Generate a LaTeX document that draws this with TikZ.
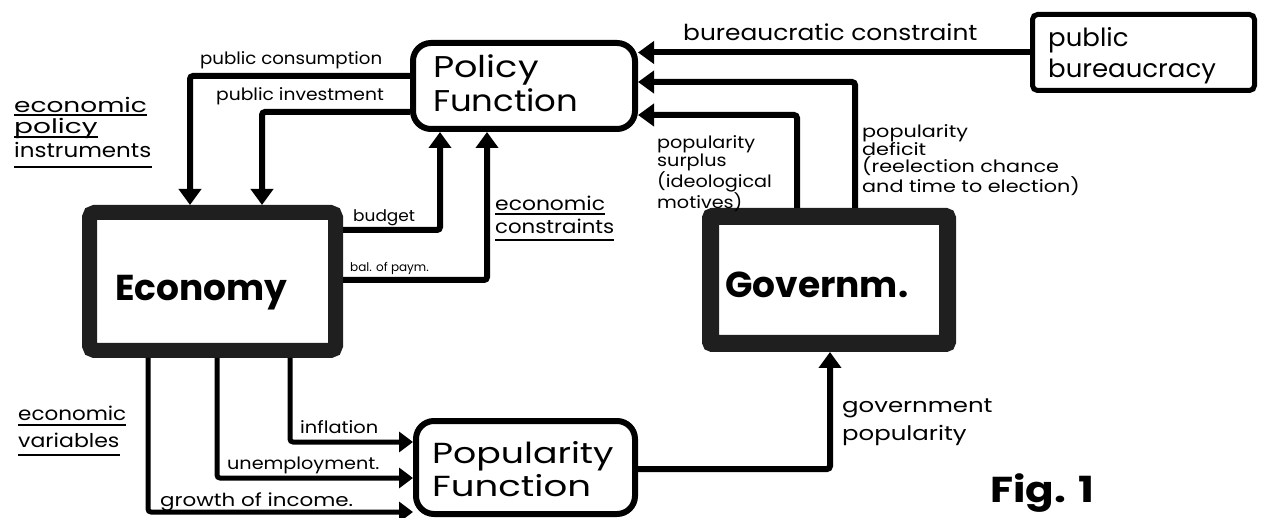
\documentclass[tikz,border=0pt]{standalone}
\usepackage{fontspec}
\usepackage{graphicx}
\setmainfont{Poppins}
\usetikzlibrary{arrows.meta}
\newcommand{\hx}[2]{\scalebox{#1}[1]{#2}}
\begin{document}
\begin{tikzpicture}[x=1pt,y=-1pt,
  conn/.style={line width=6pt, rounded corners=3pt, -{Triangle[width=22pt,length=16pt]}},
  thinconn/.style={line width=5pt, rounded corners=3pt, -{Triangle[width=20pt,length=14pt]}},
  fbox/.style={draw, line width=6pt, rounded corners=18pt, inner sep=0pt},
  heavybox/.style={draw=black!88, inner sep=0pt},
  txt/.style={inner sep=0pt, anchor=base west},
  mtxt/.style={inner sep=0pt, anchor=north west, align=left},
  ul/.style={line width=1.3pt},
  fs/.style={font=\fontsize{#1}{#1}\selectfont}
]
\useasboundingbox (0,0) rectangle (1266,518);

% boxes
\node[fbox, minimum width=222pt, minimum height=86pt] (pf) at (524,86) {};
\node[draw, line width=5pt, rounded corners=5pt, minimum width=222pt, minimum height=76pt, inner sep=0pt] (pb) at (1143.5,52.5) {};
\node[heavybox, line width=15pt, rounded corners=5pt, minimum width=246pt, minimum height=138pt] (eco) at (212.5,281.5) {};
\node[heavybox, line width=17pt, rounded corners=2pt, minimum width=237pt, minimum height=127pt] (gov) at (829,280) {};
\node[fbox, minimum width=219pt, minimum height=93pt] (ppf) at (525.5,467.5) {};

% box texts
\node[txt, fs=30] (pft1) at (433,78) {\hx{1.22}{Policy}};
\node[txt, fs=30] (pft2) at (433,112) {\hx{1.13}{Function}};
\node[txt, fs=25] (pbt1) at (1048,47) {\hx{1.04}{public}};
\node[txt, fs=25] (pbt2) at (1048,78) {\hx{1.04}{bureaucracy}};
\node[txt, fs=29] (ppt1) at (432,463) {\hx{1.25}{Popularity}};
\node[txt, fs=29] (ppt2) at (432,496) {\hx{1.28}{Function}};
\node[txt, font=\fontsize{36}{36}\bfseries] (ecot) at (115,301) {Economy};
\node[txt, font=\fontsize{36}{36}\bfseries] (govt) at (725,298) {Governm.};
\node[txt, font=\fontsize{36}{36}\bfseries] (fig) at (990,502) {\hx{1.17}{Fig. 1}};

% connectors
\draw[conn] (pb.west) -- (pb.west -| pf.east);
\draw[conn] ([xshift=26pt]gov.north) |- ([yshift=4pt]pf.east);
\draw[conn] ([xshift=-32pt]gov.north) |- ([yshift=-29pt]pf.east);
\draw[conn] ([yshift=10pt]pf.west) -| ([xshift=-22.5pt]eco.north);
\draw[conn] ([yshift=-26pt]pf.west) -| ([xshift=49.5pt]eco.north);
\draw[conn] ([yshift=51.5pt]eco.east) -| ([xshift=-84pt]pf.south);
\draw[conn] ([yshift=1.5pt]eco.east) -| ([xshift=-37pt]pf.south);
\draw[thinconn] ([xshift=77.5pt]eco.south) |- ([yshift=25.5pt]ppf.west);
\draw[thinconn] ([xshift=4.5pt]eco.south) |- ([yshift=-10.5pt]ppf.west);
\draw[thinconn] ([xshift=-64.5pt]eco.south) |- ([yshift=-44.5pt]ppf.west);
\draw[conn] ([yshift=-1.5pt]ppf.east) -| ([xshift=1pt]gov.south);

% connector labels
\node[txt, fs=22] (lbc) at (683,41) {\hx{1.13}{bureaucratic constraint}};
\node[txt, fs=17] (lpc) at (200,65) {\hx{1.07}{public consumption}};
\node[txt, fs=17] (lpi) at (216,101) {\hx{1.1}{public investment}};
\node[txt, fs=16] (lbud) at (353,222) {\hx{1.06}{budget}};
\node[txt, fs=12] (lbal) at (350,272) {bal. of paym.};
\node[txt, fs=19] (lec1) at (495,211) {\hx{1.15}{economic}};
\node[txt, fs=19] (lec2) at (495,234) {\hx{1.12}{constraints}};
\draw[ul] ([yshift=-3pt]lec1.base west) -- ([yshift=-3pt]lec1.base east);
\draw[ul] ([yshift=-6pt]lec2.base west) -- ([yshift=-6pt]lec2.base east);
\node[mtxt, font=\fontsize{17}{15.5}\selectfont] (lsur) at (657,135) {\hx{1.13}{popularity}\\\hx{1.13}{surplus}\\\hx{1.13}{(ideological}\\\hx{1.13}{motives)}};
\node[mtxt, font=\fontsize{17}{15}\selectfont] (ldef) at (862,124) {\hx{1.22}{popularity}\\\hx{1.22}{deficit}\\\hx{1.22}{(reelection chance}\\\hx{1.22}{and time to election)}};
\node[txt, fs=20] (lgp1) at (842,412) {\hx{1.22}{government}};
\node[txt, fs=20] (lgp2) at (842,440) {\hx{1.22}{popularity}};
\node[txt, fs=17] (linf) at (300,433) {\hx{1.14}{inflation}};
\node[txt, fs=17] (lun) at (227,469) {\hx{1.13}{unemployment.}};
\node[txt, fs=18] (lgr) at (160,506) {\hx{1.19}{growth of income.}};

% side labels
\node[txt, fs=20] (sp1) at (14,113) {\hx{1.32}{economic}};
\node[txt, fs=20] (sp2) at (14,134) {\hx{1.4}{policy}};
\node[txt, fs=20] (sp3) at (14,158) {\hx{1.15}{instruments}};
\draw[ul] ([yshift=-2pt]sp1.base west) -- ([yshift=-2pt]sp1.base east);
\draw[ul] ([yshift=-3pt]sp2.base west) -- ([yshift=-3pt]sp2.base east);
\draw[ul] ([yshift=-9pt]sp3.base west) -- ([yshift=-9pt]sp3.base east);
\node[txt, fs=19] (sv1) at (18,420) {\hx{1.13}{economic}};
\node[txt, fs=19] (sv2) at (18,447) {\hx{1.16}{variables}};
\draw[ul] ([yshift=-5pt]sv1.base west) -- ([yshift=-5pt]sv1.base east);
\draw[ul] ([yshift=-8pt]sv2.base west) -- ([yshift=-8pt]sv2.base east);
\end{tikzpicture}
\end{document}
